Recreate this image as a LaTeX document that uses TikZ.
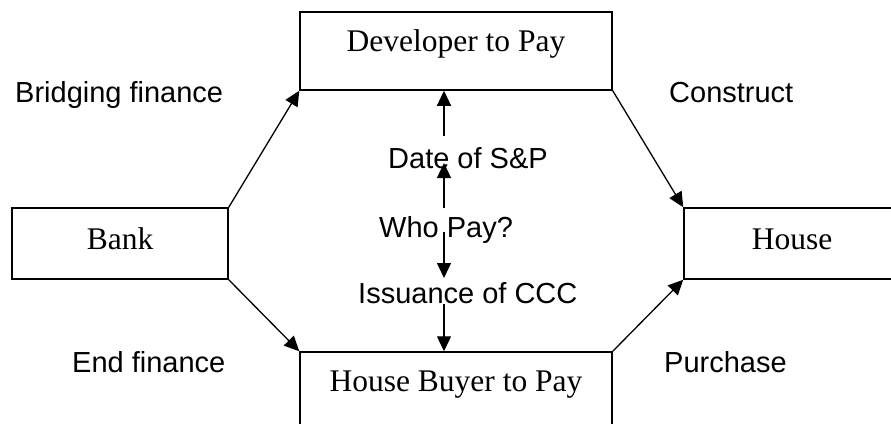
\documentclass[tikz,border=0pt]{standalone}
\usepackage{fontspec}
\setmainfont{Liberation Serif}
\setsansfont{Liberation Sans}
\usetikzlibrary{arrows.meta, positioning, calc}

\begin{document}
\begin{tikzpicture}[
    x=1pt, y=-1pt,
    box/.style={rectangle, draw, line width=1.5pt, inner sep=0pt, font=\fontsize{31.5}{36}\selectfont},
    paybox/.style={box, minimum width=312pt, minimum height=78pt, text height=22pt, text depth=22pt},
    endbox/.style={box, minimum width=216pt, minimum height=71pt, text height=16pt, text depth=5pt},
    note/.style={anchor=base west, inner sep=0pt, font=\sffamily\fontsize{29}{34}\selectfont},
    arrow/.style={-{Triangle[length=15pt, width=14pt]}, line width=1.3pt}
]
\useasboundingbox (0,0) rectangle (891,423);

% The four parties
\node (bank) [endbox] at (120,243.5) {Bank};
\node (house) [endbox] at (792,243.5) {House};
\node (developer) [paybox] at (456,51) {Developer to Pay};
\node (buyer) [paybox] at (456,391) {House Buyer to Pay};

% Labels beside the flows
\node (bridging) [note] at (15,102) {Bridging finance};
\node (construct) [note] at (669,102) {Construct};
\node (endfin) [note] at (72,372) {End finance};
\node (purchase) [note] at (664,372) {Purchase};

% Labels on the middle spine
\node (date) [note] at (388,168) {Date of S\&P};
\node (who) [note] at (379,237) {Who Pay?};
\node (ccc) [note] at (358,303) {Issuance of CCC};

\coordinate (s1) at (444,136);
\coordinate (s2) at (444,208);
\coordinate (s2e) at (444,163);
\coordinate (s3) at (444,232);
\coordinate (s3e) at (444,278);
\coordinate (s4) at (444,304);

% Outer flows
\draw [arrow] (bank.north east) -- (developer.south west);
\draw [arrow] (developer.south east) -- (house.north west);
\draw [arrow] (bank.south east) -- (buyer.north west);
\draw [arrow] (buyer.north east) -- (house.south west);

% Middle spine
\draw [arrow] (s1) -- (s1 |- developer.south);
\draw [arrow] (s2) -- (s2e);
\draw [arrow] (s3) -- (s3e);
\draw [arrow] (s4) -- (s4 |- buyer.north);

\end{tikzpicture}
\end{document}
